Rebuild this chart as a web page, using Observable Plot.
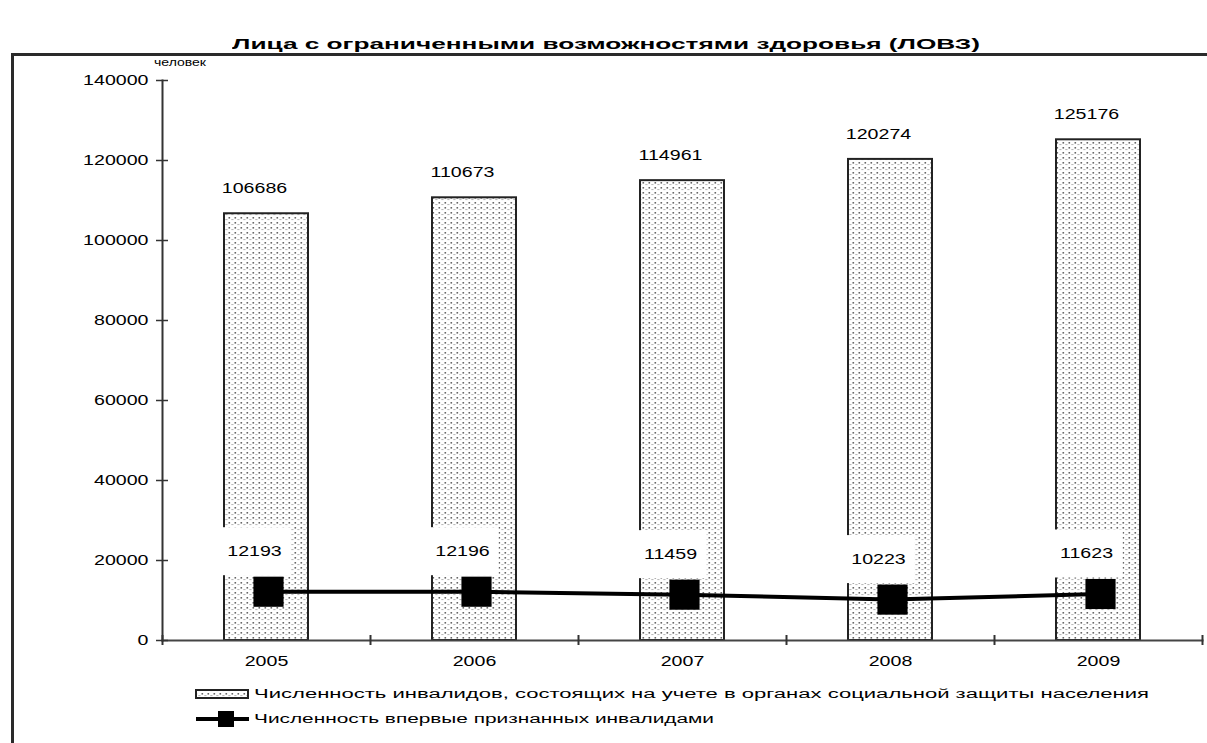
<!DOCTYPE html>
<html>
<head>
<meta charset="utf-8">
<script src="https://cdn.jsdelivr.net/npm/d3@7"></script>
<script src="https://cdn.jsdelivr.net/npm/@observablehq/plot@0.6"></script>
<style>
  html, body { margin: 0; padding: 0; background: #fff; }
  body { width: 1207px; height: 743px; overflow: hidden; position: relative; font-family: "Liberation Sans", Arial, sans-serif; color: #000; }
  .abs { position: absolute; white-space: nowrap; transform-origin: left center; }
</style>
</head>
<body>
<div id="frame" class="abs" style="left:11px; top:53px; width:1300px; height:800px; border-left:3px solid #2a2a2a; border-top:3px solid #2a2a2a;"></div>
<div id="title" class="abs" style="left:232px; top:35px; font-weight:bold; font-size:15px;">Лица с ограниченными возможностями здоровья (ЛОВЗ)</div>
<div id="unit" class="abs" style="left:154px; top:57px; font-size:10px;">человек</div>
<div id="chart" class="abs" style="left:0; top:56px;"></div>
<div id="leg1" class="abs" style="left:195px; top:687px; display:flex; align-items:center;">
  <svg width="55" height="14"><rect x="1" y="3" width="52" height="8" fill="url(#dots)" stroke="#222" stroke-width="2"></rect></svg>
  <span id="leg1t" class="abs" style="position:relative; font-size:12px; margin-left:4px;"></span>
</div>
<div id="leg2" class="abs" style="left:195px; top:710px; display:flex; align-items:center;">
  <svg width="55" height="18"><line x1="1" x2="54" y1="9" y2="9" stroke="#000" stroke-width="4"></line><rect x="23" y="1" width="16" height="16" fill="#000"></rect></svg>
  <span id="leg2t" class="abs" style="position:relative; font-size:12px; margin-left:4px;"></span>
</div>
<script>
// ---- data ----
const years = ["2005", "2006", "2007", "2008", "2009"];
const registered = [106686, 110673, 114961, 120274, 125176];
const firstTime = [12193, 12196, 11459, 10223, 11623];
const yTicks = [0, 20000, 40000, 60000, 80000, 100000, 120000, 140000];
const seriesNames = [
  "Численность инвалидов, состоящих на учете в органах социальной защиты населения",
  "Численность впервые признанных инвалидами"
];

const regData = years.map((y, i) => ({year: y, value: registered[i]}));
const firstData = years.map((y, i) => ({year: y, value: firstTime[i]}));

document.getElementById("leg1t").textContent = seriesNames[0];
document.getElementById("leg2t").textContent = seriesNames[1];

const fmt = d3.format("d");
const font = "'Liberation Sans', Arial, sans-serif";

const chart = Plot.plot({
  width: 1207,
  height: 630,
  marginLeft: 162,
  marginRight: 5,
  marginTop: 24,
  marginBottom: 46,
  x: {domain: years, padding: 0, axis: null},
  y: {domain: [0, 140000], axis: null},
  style: {fontFamily: font, fontSize: "14px", color: "#000", background: "transparent", overflow: "visible"},
  marks: [
    Plot.barY(regData, {x: "year", y: "value", fill: "url(#dots)", stroke: "#222", strokeWidth: 2, insetLeft: 62, insetRight: 62}),
    Plot.frame({anchor: "left", stroke: "#333", strokeWidth: 2}),
    Plot.frame({anchor: "bottom", stroke: "#444", strokeWidth: 2}),
    Plot.axisY({ticks: yTicks, label: null, tickSize: 12, dx: 6, tickPadding: 8, tickFormat: fmt, stroke: "#333", strokeWidth: 1.5, fontSize: 14}),
    Plot.axisX({label: null, tickSize: 0, tickPadding: 16, fontSize: 14}),
    Plot.axisX({label: null, tickSize: 10, dy: -5, dx: -104, tickFormat: () => "", stroke: "#333", strokeWidth: 2}),
    Plot.axisX({label: null, ticks: [years[years.length - 1]], tickSize: 10, dy: -5, dx: 104, tickFormat: () => "", stroke: "#333", strokeWidth: 2}),
    Plot.text(regData, {x: "year", y: "value", text: d => fmt(d.value), dy: -25, dx: -12, fontSize: 14}),
    Plot.text(firstData, {x: "year", y: "value", text: d => fmt(d.value), dy: -40, dx: -12, fontSize: 14, fill: "#000", className: "line-labels"}),
    Plot.lineY(firstData, {x: "year", y: "value", stroke: "#000", strokeWidth: 4}),
    Plot.dot(firstData, {x: "year", y: "value", symbol: "square", r: 17, fill: "#000", dx: 2})
  ]
});

// dotted fill pattern
const defs = `<defs><pattern id="dots" patternUnits="userSpaceOnUse" width="6" height="5">
  <rect width="6" height="5" fill="#fff"></rect>
  <rect x="0.5" y="1" width="1.6" height="1.6" fill="#666"></rect>
  <rect x="3.3" y="3" width="2.2" height="1.1" fill="#bbb"></rect>
</pattern></defs>`;
chart.insertAdjacentHTML("afterbegin", defs);
document.getElementById("chart").appendChild(chart);

// horizontal stretch of svg texts (the reference uses wide glyphs)
const stretch = 1.4;
chart.querySelectorAll("text").forEach(t => {
  const s = t.textContent;
  if (!s) return;
  const w = t.getComputedTextLength();
  if (w > 0) {
    t.setAttribute("textLength", (w * stretch).toFixed(1));
    t.setAttribute("lengthAdjust", "spacingAndGlyphs");
  }
});

// white label boxes behind the line labels
const NS = "http://www.w3.org/2000/svg";
chart.querySelectorAll(".line-labels text").forEach(t => {
  const b = t.getBBox();
  const r = document.createElementNS(NS, "rect");
  const cx = b.x + b.width / 2, cy = b.y + b.height / 2;
  const w = 72, h = 48;
  r.setAttribute("x", cx - w / 2);
  r.setAttribute("y", cy - h / 2);
  r.setAttribute("width", w);
  r.setAttribute("height", h);
  r.setAttribute("fill", "#fff");
  if (t.getAttribute("transform")) r.setAttribute("transform", t.getAttribute("transform"));
  t.parentNode.insertBefore(r, t);
});

// stretch html texts to target widths
function fit(id, target) {
  const el = document.getElementById(id);
  const w = el.getBoundingClientRect().width;
  if (w > 0) el.style.transform = `scaleX(${target / w})`;
}
fit("title", 748);
fit("unit", 52);
fit("leg1t", 895);
fit("leg2t", 460);
</script>
</body>
</html>
